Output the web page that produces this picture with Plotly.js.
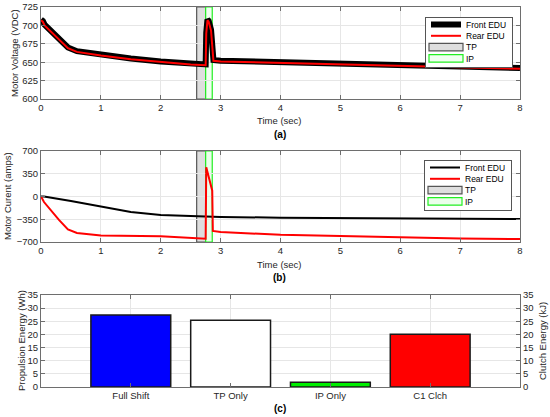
<!DOCTYPE html>
<html>
<head>
<meta charset="utf-8">
<script src="https://cdn.plot.ly/plotly-3.0.1.min.js"></script>
<style>html,body{margin:0;padding:0;background:#fff;}#chart{width:550px;height:417px;}</style>
</head>
<body>
<div id="chart"></div>
<script>
// ---- Panel (a): motor voltage ----
const tVolt = [0, 0.03, 0.06, 0.2, 0.45, 0.6, 1.0, 1.5, 2.0, 2.5, 2.75, 2.76, 2.78, 2.8, 2.84, 2.86, 2.88, 3.0, 4.0, 5.0, 6.0, 7.0, 8.0];
const frontVolt = [708, 706, 701, 690, 670, 665, 660, 655, 651, 648, 647, 690, 708, 706, 694, 670, 653, 652, 650, 648, 646, 644, 642];
const rearVolt  = [707, 705, 700, 689, 669, 664, 659, 654, 650, 647, 646, 689, 707, 705, 693, 669, 652, 651, 649, 647, 645, 643, 641];

// ---- Panel (b): motor current ----
const tFrontCur = [0, 0.05, 0.5, 1.0, 1.5, 2.0, 2.5, 2.75, 3.0, 4.0, 5.0, 6.0, 7.0, 8.0];
const frontCur  = [0, 0, -70, -157, -240, -284, -300, -305, -315, -326, -332, -338, -342, -346];
const tRearCur = [0, 0.05, 0.3, 0.45, 0.6, 1.0, 2.0, 2.5, 2.74, 2.75, 2.76, 2.86, 2.87, 3.0, 4.0, 5.0, 6.0, 7.0, 8.0];
const rearCur  = [0, -85, -360, -505, -560, -600, -612, -635, -650, -650, 450, 90, -530, -545, -590, -612, -630, -645, -655];

// ---- Shift phases ----
const tpStart = 2.6, tpEnd = 2.75;
const ipStart = 2.75, ipEnd = 2.86;

// ---- Panel (c): energy ----
const energyCats = ['Full Shift', 'TP Only', 'IP Only', 'C1 Clch'];
const propulsionWh = [27.4, 25.4, 1.8];
const clutchKJ = [20.1];

const voltTicks = [600, 625, 650, 675, 700, 725];
const curTicks = [-700, -350, 0, 350, 700];
const timeTicks = [0, 1, 2, 3, 4, 5, 6, 7, 8];
const energyTicks = [0, 5, 10, 15, 20, 25, 30, 35];

const FONT = 'Liberation Sans, Arial, sans-serif';
const AX = '#6e6e6e';
const GRID = '#e6e6e6';

const traces = [];
traces.push({x: tVolt, y: frontVolt, xaxis: 'x', yaxis: 'y', mode: 'lines', line: {color: '#000000', width: 6},
  name: 'Front EDU', legend: 'legend', legendrank: 1});
traces.push({x: tVolt, y: rearVolt, xaxis: 'x', yaxis: 'y', mode: 'lines', line: {color: '#ff0000', width: 2},
  name: 'Rear EDU', legend: 'legend', legendrank: 2});
traces.push({x: tFrontCur, y: frontCur, xaxis: 'x2', yaxis: 'y2', mode: 'lines', line: {color: '#000000', width: 2},
  name: 'Front EDU', legend: 'legend2', legendrank: 1});
traces.push({x: tRearCur, y: rearCur, xaxis: 'x2', yaxis: 'y2', mode: 'lines', line: {color: '#ff0000', width: 2},
  name: 'Rear EDU', legend: 'legend2', legendrank: 2});
traces.push({type: 'bar', x: energyCats.slice(0, 3), y: propulsionWh, xaxis: 'x3', yaxis: 'y3', width: 0.8,
  marker: {color: ['#0000ff', '#ffffff', '#00ee00'], line: {color: '#1a1a1a', width: 1.5}}, showlegend: false});
traces.push({type: 'bar', x: energyCats.slice(3), y: clutchKJ, xaxis: 'x3', yaxis: 'y4', width: 0.8,
  marker: {color: '#ff0000', line: {color: '#1a1a1a', width: 1.5}}, showlegend: false});

function phaseShape(x0, x1, xref, yref, fill, edge, name, leg, rank) {
  return {type: 'rect', xref: xref, yref: yref + ' domain', x0: x0, x1: x1, y0: 0, y1: 1, layer: 'below',
    fillcolor: fill, line: {color: edge, width: 1.2}, showlegend: true, name: name, legend: leg, legendrank: rank};
}
const shapes = [
  phaseShape(tpStart, tpEnd, 'x', 'y', '#dedede', '#555555', 'TP', 'legend', 3),
  phaseShape(ipStart, ipEnd, 'x', 'y', '#f0fff0', '#22ee22', 'IP', 'legend', 4),
  phaseShape(tpStart, tpEnd, 'x2', 'y2', '#dedede', '#555555', 'TP', 'legend2', 3),
  phaseShape(ipStart, ipEnd, 'x2', 'y2', '#eaffea', '#22ee22', 'IP', 'legend2', 4)
];

const xDom = [41/550, 520/550];
function yDom(top, bot) { return [1 - bot/417, 1 - top/417]; }

const baseAxis = {
  showline: true, linecolor: AX, linewidth: 1, mirror: 'ticks', ticks: 'inside', ticklen: 4, tickcolor: AX,
  showgrid: true, gridcolor: GRID, zeroline: false, tickfont: {family: FONT, size: 9.5, color: '#262626'}, layer: 'above traces'
};

const legendBase = {
  xanchor: 'left', yanchor: 'top', bgcolor: '#ffffff', bordercolor: '#555555', borderwidth: 1,
  font: {family: FONT, size: 8.5, color: '#000'}, tracegroupgap: 0, itemwidth: 30, traceorder: 'normal'
};

function ann(text, x, y, extra) {
  return Object.assign({text: text, x: x, y: y, xref: 'paper', yref: 'paper', showarrow: false,
    xanchor: 'center', yanchor: 'middle', font: {family: FONT, size: 9.5, color: '#262626'}}, extra || {});
}

const layout = {
  width: 550, height: 417, margin: {l: 0, r: 0, t: 0, b: 0}, paper_bgcolor: '#fff', plot_bgcolor: '#fff',
  font: {family: FONT}, showlegend: true, bargap: 0.2, shapes: shapes,
  xaxis: Object.assign({}, baseAxis, {domain: xDom, anchor: 'y', range: [0, 8], tickvals: timeTicks}),
  yaxis: Object.assign({}, baseAxis, {domain: yDom(7, 99), anchor: 'x', range: [600, 725], tickvals: voltTicks}),
  xaxis2: Object.assign({}, baseAxis, {domain: xDom, anchor: 'y2', range: [0, 8], tickvals: timeTicks}),
  yaxis2: Object.assign({}, baseAxis, {domain: yDom(151, 242), anchor: 'x2', range: [-700, 700], tickvals: curTicks}),
  xaxis3: Object.assign({}, baseAxis, {domain: xDom, anchor: 'y3', type: 'category', categoryarray: energyCats,
    categoryorder: 'array', range: [-0.9, 3.9]}),
  yaxis3: Object.assign({}, baseAxis, {domain: yDom(295, 387), anchor: 'x3', range: [0, 35], tickvals: energyTicks, mirror: false}),
  yaxis4: Object.assign({}, baseAxis, {overlaying: 'y3', side: 'right', anchor: 'x3', range: [0, 35], tickvals: energyTicks,
    showgrid: false, mirror: false}),
  legend: Object.assign({}, legendBase, {x: 425/550, y: 1 - 17/417}),
  legend2: Object.assign({}, legendBase, {x: 424/550, y: 1 - 160/417}),
  annotations: [
    ann('Motor Voltage (VDC)', 15/550, 1 - 53/417, {textangle: -90}),
    ann('Time (sec)', 280/550, 1 - 120/417),
    ann('<b>(a)</b>', 280/550, 1 - 134/417, {font: {family: FONT, size: 10, color: '#000'}}),
    ann('Motor Curent (amps)', 8/550, 1 - 196/417, {textangle: -90}),
    ann('Time (sec)', 280/550, 1 - 264/417),
    ann('<b>(b)</b>', 280/550, 1 - 277/417, {font: {family: FONT, size: 10, color: '#000'}}),
    ann('Propulsion Energy (Wh)', 21/550, 1 - 341/417, {textangle: -90}),
    ann('Clutch Energy (kJ)', 542/550, 1 - 341/417, {textangle: -90}),
    ann('<b>(c)</b>', 280/550, 1 - 408/417, {font: {family: FONT, size: 10, color: '#000'}})
  ]
};

// Compact the legend rows to the tighter spacing of the reference figure,
// and widen the shape (patch) symbols into MATLAB-style rectangles.
function compactLegends(gd) {
  const pitch = 11.3, top = 7.5;
  const legends = Array.prototype.filter.call(gd.querySelectorAll('g'), function (g) {
    const c = g.getAttribute('class') || '';
    return /^legend\d*$/.test(c.trim());
  });
  legends.forEach(function (leg) {
    const items = leg.querySelectorAll('g.traces');
    items.forEach(function (g, i) {
      const t = g.getAttribute('transform') || '';
      const m = /translate\(\s*([-\d.e]+)[ ,]+([-\d.e]+)\s*\)/.exec(t);
      const x = m ? parseFloat(m[1]) : 0;
      g.setAttribute('transform', 'translate(' + x + ',' + (top + i * pitch) + ')');
      if (i >= 2) {
        g.querySelectorAll('path').forEach(function (p) {
          const d = p.getAttribute('d') || '';
          if (d && !/^M5,0h30$/.test(d)) {
            p.setAttribute('d', 'M3,-3.8h34v7.6h-34z');
            p.removeAttribute('transform');
          }
        });
      }
    });
    const bg = leg.querySelector('rect.bg');
    if (bg) bg.setAttribute('height', top + (items.length - 1) * pitch + top + 1);
  });
}

Plotly.newPlot('chart', traces, layout, {staticPlot: true, displayModeBar: false}).then(compactLegends);
</script>
</body>
</html>
